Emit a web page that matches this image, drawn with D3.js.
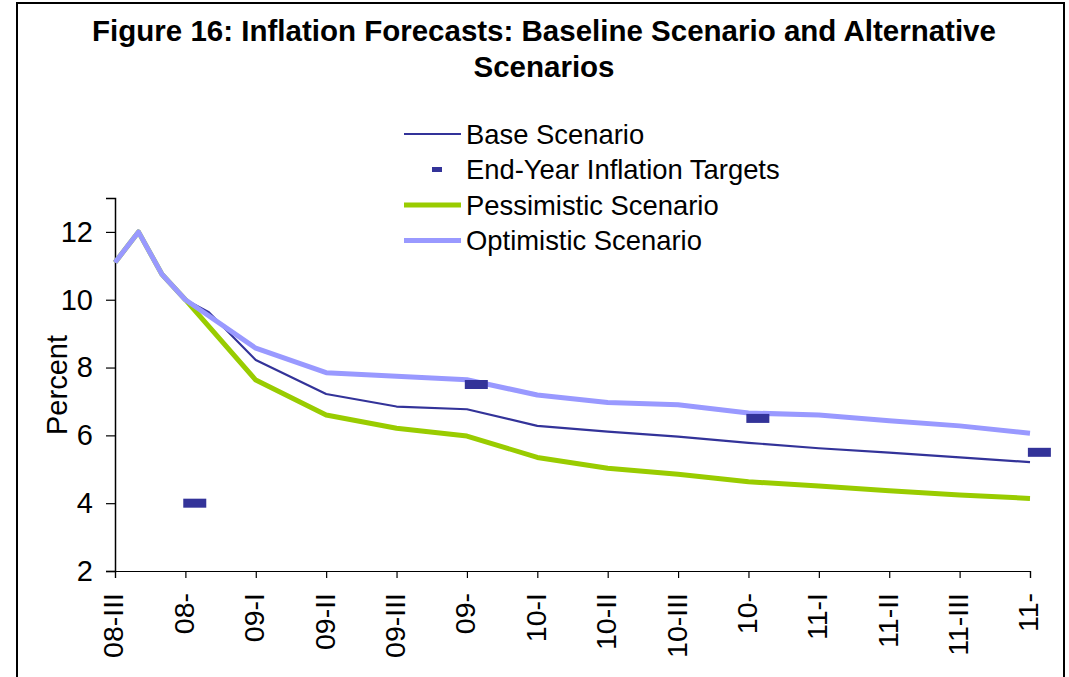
<!DOCTYPE html>
<html>
<head>
<meta charset="utf-8">
<script src="https://cdn.jsdelivr.net/npm/d3@7"></script>
<style>
  html, body { margin: 0; padding: 0; background: #fff; }
  svg { display: block; font-family: "Liberation Sans", Arial, sans-serif; }
</style>
</head>
<body>
<svg id="chart" width="1069" height="677"></svg>
<script>
// ---- data (month index counted from 08-III) ----
const tickPos    = [0, 3, 6, 9, 12, 15, 18, 21, 24, 27, 30, 33, 36, 39];
const tickLabels = ["08-III", "08-", "09-I", "09-II", "09-III", "09-", "10-I", "10-II", "10-III", "10-", "11-I", "11-II", "11-III", "11-"];
const monthIdx   = [0, 1, 2, 3, 4, 6, 9, 12, 15, 18, 21, 24, 27, 30, 33, 36, 39];
const baseScenario = [11.1, 12.0, 10.75, 10.0, 9.63, 8.22, 7.22, 6.85, 6.77, 6.28, 6.11, 5.96, 5.78, 5.62, 5.49, 5.35, 5.21];
const pessimistic  = [11.1, 12.0, 10.75, 10.0, null, 7.63, 6.60, 6.21, 5.98, 5.35, 5.03, 4.85, 4.63, 4.51, 4.37, 4.24, 4.14];
const optimistic   = [11.1, 12.0, 10.75, 10.0, null, 8.57, 7.85, 7.74, 7.64, 7.19, 6.97, 6.90, 6.66, 6.60, 6.43, 6.28, 6.06];
const targetPos    = [3.4, 15.4, 27.4, 39.4];
const targetValues = [4.0, 7.5, 6.5, 5.5];
const yTicks = [2, 4, 6, 8, 10, 12];

const svg = d3.select("#chart");
const FONT = "'Liberation Sans', Arial, sans-serif";

// frame
svg.append("rect").attr("x", 17).attr("y", 3).attr("width", 1047).attr("height", 700)
  .attr("fill", "none").attr("stroke", "#000").attr("stroke-width", 2);

// title
const title = svg.append("text").attr("text-anchor", "middle").attr("font-weight", "bold")
  .attr("font-size", 29.5).attr("fill", "#000");
title.append("tspan").attr("x", 544).attr("y", 41).text("Figure 16: Inflation Forecasts: Baseline Scenario and Alternative");
title.append("tspan").attr("x", 544).attr("y", 77).text("Scenarios");

// scales
const x = d3.scaleLinear().domain([0, 39]).range([115, 1030]);
const y = d3.scaleLinear().domain([2, 13]).range([571, 198]);

// axes
const yAxis = svg.append("g").attr("transform", `translate(${x(0)},0)`)
  .call(d3.axisLeft(y).tickValues(yTicks).tickSize(9).tickPadding(13).tickFormat(d3.format("d")));
yAxis.select(".domain").attr("stroke", "#000").attr("stroke-width", 1.5);
yAxis.selectAll(".tick line").attr("stroke", "#000").attr("stroke-width", 1.2);
yAxis.selectAll(".tick text").attr("font-size", 29).attr("fill", "#000").attr("font-family", FONT);

const xAxis = svg.append("g").attr("transform", `translate(0,${y(2)})`)
  .call(d3.axisBottom(x).tickValues(tickPos).tickSize(7).tickFormat((d, i) => tickLabels[i]));
xAxis.select(".domain").attr("stroke", "#000").attr("stroke-width", 1.2);
xAxis.selectAll(".tick line").attr("stroke", "#000").attr("stroke-width", 1.2);
xAxis.selectAll(".tick text")
  .attr("font-size", 28.5).attr("fill", "#000")
  .attr("font-family", FONT)
  .attr("text-anchor", "end")
  .attr("dy", "0.35em")
  .attr("transform", "translate(-2,22) rotate(-90)")
  .attr("x", 0).attr("y", 0);

// y label
svg.append("text").attr("transform", `translate(67,${385}) rotate(-90)`)
  .attr("text-anchor", "middle").attr("font-size", 29).attr("fill", "#000").text("Percent");

// lines
const line = d3.line().x(d => x(d[0])).y(d => y(d[1]));
function pts(vals) { return monthIdx.map((m, i) => [m, vals[i]]).filter(d => d[1] !== null); }

svg.append("path").datum(pts(baseScenario)).attr("d", line)
  .attr("fill", "none").attr("stroke", "#333399").attr("stroke-width", 2.2).attr("stroke-linejoin", "round");
svg.append("path").datum(pts(pessimistic)).attr("d", line)
  .attr("fill", "none").attr("stroke", "#99CC00").attr("stroke-width", 5).attr("stroke-linejoin", "round");
svg.append("path").datum(pts(optimistic)).attr("d", line)
  .attr("fill", "none").attr("stroke", "#9999FF").attr("stroke-width", 5).attr("stroke-linejoin", "round");

// targets
const mw = 23, mh = 9;
svg.append("g").selectAll("rect").data(targetPos.map((p, i) => [p, targetValues[i]])).join("rect")
  .attr("x", d => x(d[0]) - mw / 2).attr("y", d => y(d[1]) - mh / 2)
  .attr("width", mw).attr("height", mh).attr("fill", "#333399");

// legend
const legendItems = [
  { label: "Base Scenario", type: "line", color: "#333399", w: 2.2 },
  { label: "End-Year Inflation Targets", type: "marker", color: "#333399" },
  { label: "Pessimistic Scenario", type: "line", color: "#99CC00", w: 5 },
  { label: "Optimistic Scenario", type: "line", color: "#9999FF", w: 5 }
];
const lg = svg.append("g");
legendItems.forEach((it, i) => {
  const cy = 134 + i * 35.5;
  if (it.type === "line") {
    lg.append("line").attr("x1", 404).attr("x2", 461).attr("y1", cy).attr("y2", cy)
      .attr("stroke", it.color).attr("stroke-width", it.w);
  } else {
    lg.append("rect").attr("x", 432).attr("y", cy - 2.5).attr("width", 10).attr("height", 5).attr("fill", it.color);
  }
  lg.append("text").attr("x", 466).attr("y", cy + 9.5).attr("font-size", 27.4).attr("fill", "#000").text(it.label);
});
</script>
</body>
</html>
